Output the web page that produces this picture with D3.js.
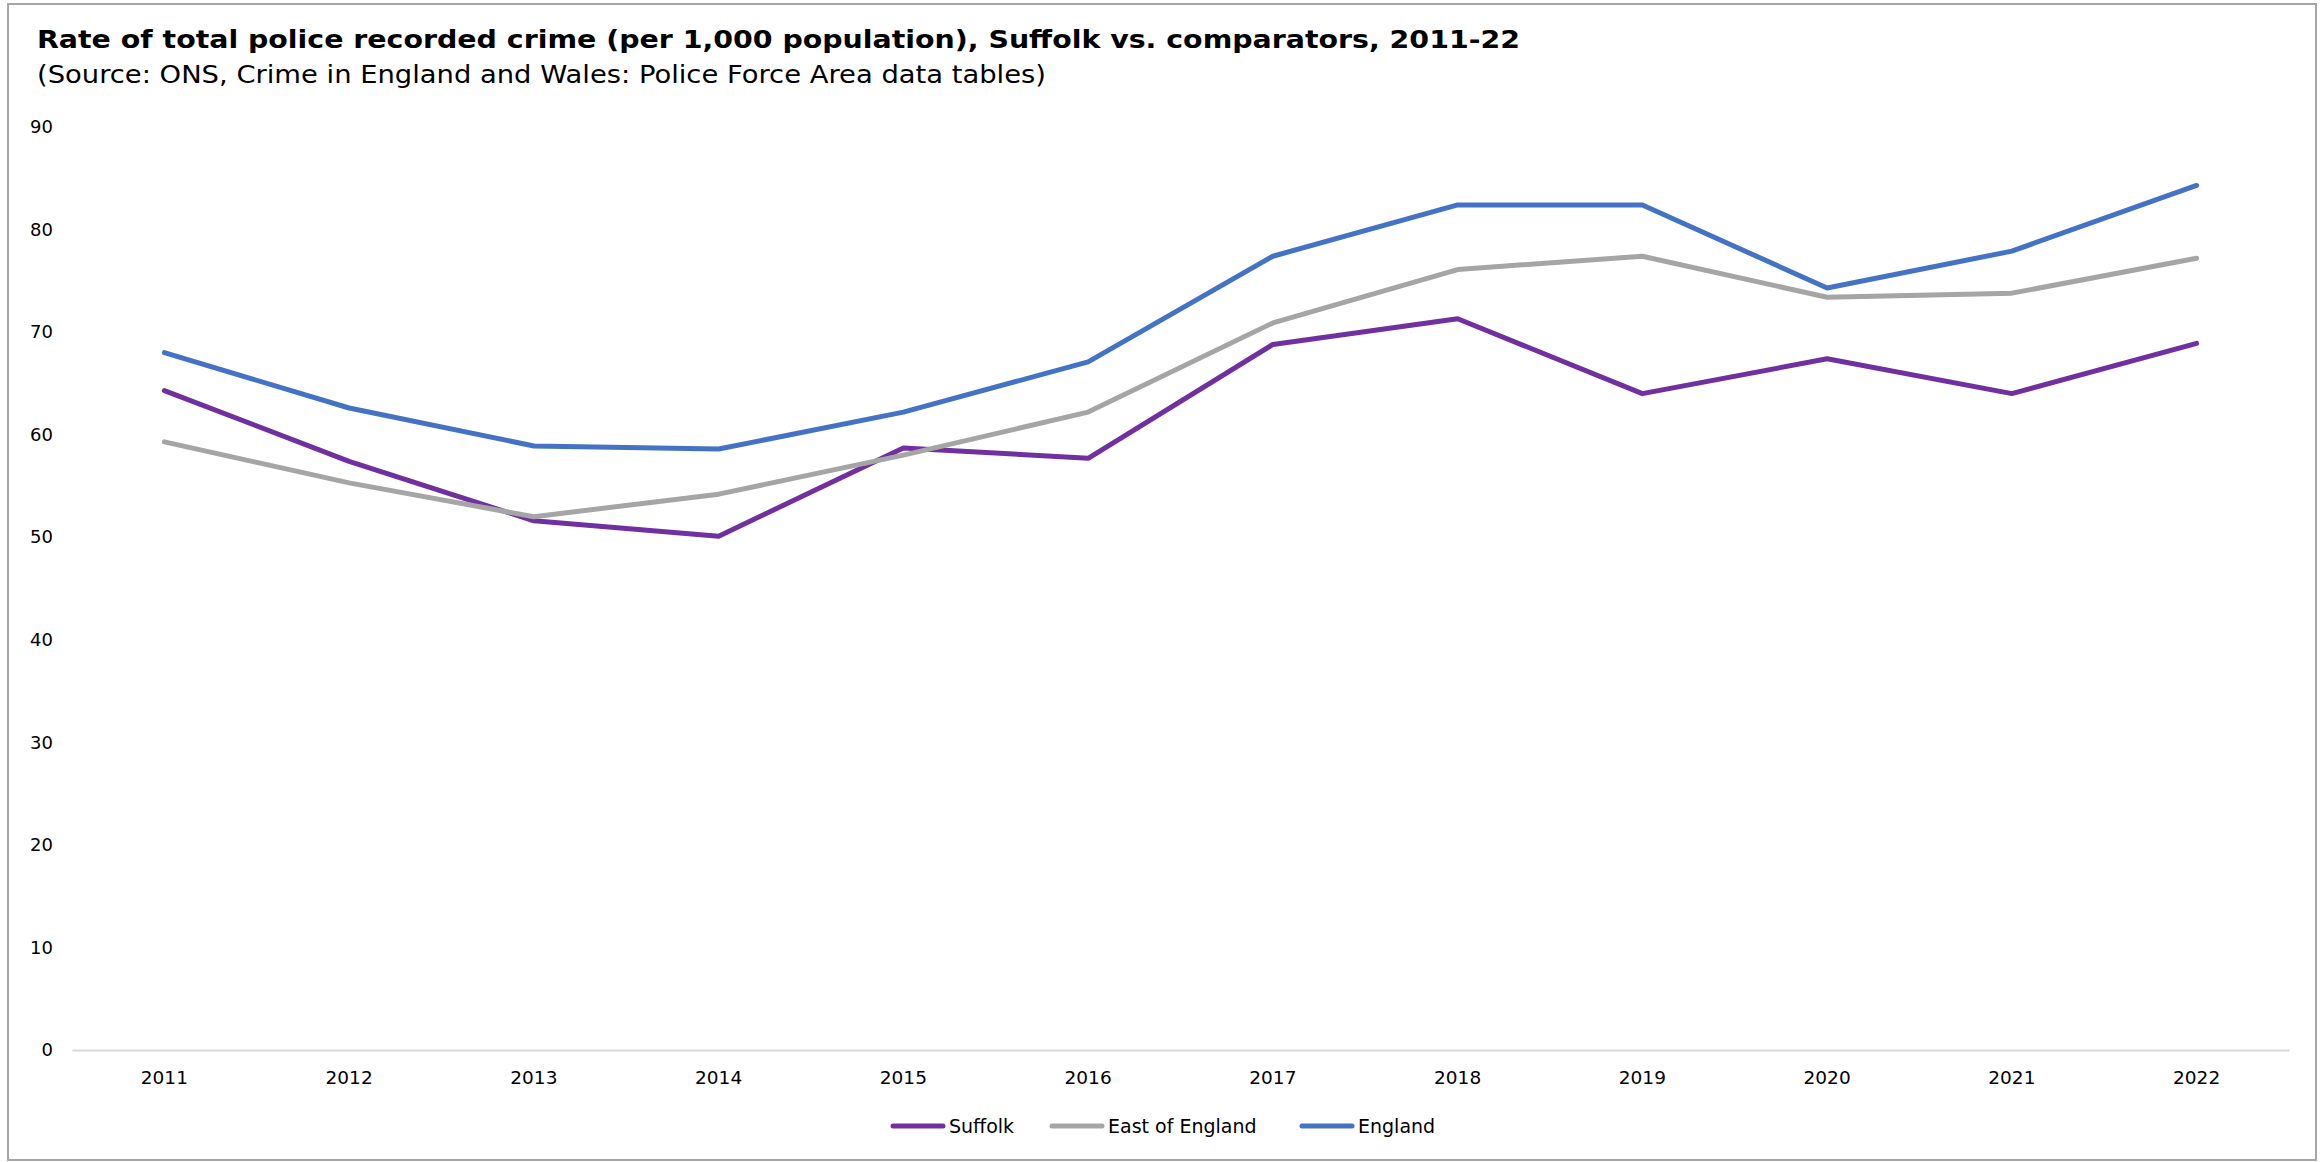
<!DOCTYPE html>
<html>
<head>
<meta charset="utf-8">
<script src="https://cdn.jsdelivr.net/npm/d3@7"></script>
<style>
  html, body { margin: 0; padding: 0; background: #ffffff; }
  svg { display: block; }
  text { font-family: "DejaVu Sans", Verdana, sans-serif; fill: #000; }
</style>
</head>
<body>
<svg id="chart" width="2323" height="1162"></svg>
<script>
const years = ["2011","2012","2013","2014","2015","2016","2017","2018","2019","2020","2021","2022"];
const suffolk = [64.3, 57.4, 51.6, 50.1, 58.7, 57.7, 68.8, 71.3, 64.0, 67.4, 64.0, 68.9];
const eastOfEngland = [59.3, 55.3, 52.0, 54.2, 58.0, 62.2, 70.9, 76.1, 77.4, 73.4, 73.8, 77.2];
const england = [68.0, 62.6, 58.9, 58.6, 62.2, 67.1, 77.4, 82.4, 82.4, 74.3, 77.9, 84.3];
const yTicks = [0, 10, 20, 30, 40, 50, 60, 70, 80, 90];
const seriesNames = ["Suffolk", "East of England", "England"];
const seriesColors = ["#7030A0", "#A5A5A5", "#4472C4"];
const titleText = "Rate of total police recorded crime (per 1,000 population), Suffolk vs. comparators, 2011-22";
const subtitleText = "(Source: ONS, Crime in England and Wales: Police Force Area data tables)";

const seriesValues = [suffolk, eastOfEngland, england];

const svg = d3.select("#chart");

// outer border
svg.append("rect")
  .attr("x", 8).attr("y", 4).attr("width", 2308).attr("height", 1156)
  .attr("fill", "#fff").attr("stroke", "#a6a6a6").attr("stroke-width", 2);

// title
svg.append("text").attr("x", 37).attr("y", 48)
  .style("font-size", "25px").style("font-weight", "bold")
  .attr("textLength", 1483).attr("lengthAdjust", "spacingAndGlyphs")
  .text(titleText);
svg.append("text").attr("x", 37).attr("y", 83)
  .style("font-size", "24px")
  .attr("textLength", 1009).attr("lengthAdjust", "spacingAndGlyphs")
  .text(subtitleText);

const x = d3.scaleBand().domain(years).range([72, 2289]).padding(0);
const y = d3.scaleLinear().domain([0, 90]).range([1050, 127]);

// y axis labels
const yAxis = d3.axisLeft(y).tickValues(yTicks).tickSize(0).tickPadding(0);
const yg = svg.append("g").attr("transform", "translate(53,0)").call(yAxis);
yg.select(".domain").remove();
yg.selectAll("text").style("font-size", "18px").style("font-family", "'DejaVu Sans', Verdana, sans-serif").attr("fill", "#000");

// x axis baseline + labels
const xAxis = d3.axisBottom(x).tickSize(0).tickPadding(0);
const xg = svg.append("g").attr("transform", "translate(0,1050)").call(xAxis);
xg.select(".domain").attr("stroke", "#d9d9d9").attr("stroke-width", 2);
xg.selectAll("text").attr("y", 28).attr("dy", "0.35em")
  .style("font-size", "18.5px").style("font-family", "'DejaVu Sans', Verdana, sans-serif").attr("fill", "#000");

// lines
const line = d3.line()
  .x((d, i) => x(years[i]) + x.bandwidth() / 2)
  .y(d => y(d));

seriesValues.forEach((vals, k) => {
  svg.append("path")
    .datum(vals)
    .attr("d", line)
    .attr("fill", "none")
    .attr("stroke", seriesColors[k])
    .attr("stroke-width", 5)
    .attr("stroke-linejoin", "round")
    .attr("stroke-linecap", "round");
});

// legend
const legendX = [891, 1050, 1300];
const legendY = 1126;
seriesNames.forEach((name, k) => {
  const g = svg.append("g");
  g.append("line")
    .attr("x1", legendX[k] + 2).attr("x2", legendX[k] + 52)
    .attr("y1", legendY).attr("y2", legendY)
    .attr("stroke", seriesColors[k]).attr("stroke-width", 5)
    .attr("stroke-linecap", "round");
  g.append("text")
    .attr("x", legendX[k] + 58).attr("y", legendY).attr("dy", "0.35em")
    .style("font-size", "19px")
    .text(name);
});
</script>
</body>
</html>
